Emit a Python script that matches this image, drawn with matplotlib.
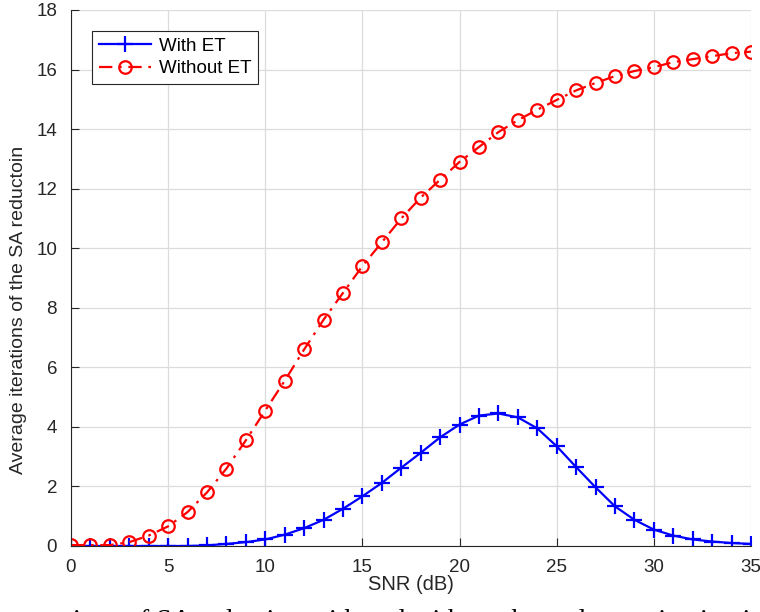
import matplotlib
matplotlib.use("Agg")
import matplotlib.pyplot as plt
import numpy as np

snr = list(range(0, 36))
with_et = [0, 0, 0, 0, 0, 0, 0, 0.02, 0.07, 0.13, 0.22, 0.38, 0.6, 0.88, 1.25,
           1.67, 2.12, 2.63, 3.13, 3.65, 4.08, 4.38, 4.45, 4.32, 3.95, 3.35,
           2.65, 1.97, 1.33, 0.88, 0.55, 0.35, 0.22, 0.15, 0.1, 0.07]
without_et = [0.03, 0.03, 0.03, 0.13, 0.35, 0.66, 1.14, 1.8, 2.6, 3.55, 4.55,
              5.55, 6.6, 7.6, 8.5, 9.4, 10.2, 11.0, 11.7, 12.3, 12.9, 13.4,
              13.9, 14.3, 14.65, 14.98, 15.3, 15.55, 15.78, 15.95, 16.08,
              16.25, 16.35, 16.45, 16.55, 16.6]

plt.rcParams["font.family"] = ["Liberation Sans", "DejaVu Sans"]

fig = plt.figure(figsize=(7.6, 6.12), dpi=100)
ax = fig.add_axes([71 / 760, 66 / 612, 680 / 760, 536 / 612])

ax.plot(snr, with_et, color="#0000ff", lw=1.6, marker="+", ms=11, mew=1.6,
        label="With ET")
ax.plot(snr, without_et, color="#ff0000", lw=1.6, ls=(0, (6, 3, 1.2, 3)),
        marker="o", ms=9, mew=1.6, mfc="none", label="Without ET")

ax.set_xlim(0, 35)
ax.set_ylim(0, 18)
ax.set_xticks(range(0, 36, 5))
ax.set_yticks(range(0, 19, 2))
ax.grid(True, color="#dcdcdc", lw=0.9)
ax.set_axisbelow(True)
for s in ["top", "right"]:
    ax.spines[s].set_visible(False)
for s in ["left", "bottom"]:
    ax.spines[s].set_color("#262626")
    ax.spines[s].set_linewidth(0.8)
ax.tick_params(direction="in", length=6, width=0.8, colors="#262626",
               labelsize=13.5, labelcolor="#262626")
ax.tick_params(axis="x", pad=9)
ax.tick_params(axis="y", pad=10)

ax.set_xlabel("SNR (dB)", fontsize=14.5, color="#262626", labelpad=0)
ax.set_ylabel("Average iterations of the SA reductoin", fontsize=14,
              color="#262626")
ax.yaxis.set_label_coords(-0.064, 0.44)

leg = ax.legend(loc="upper left", bbox_to_anchor=(0.031, 0.961), fontsize=13.5,
                fancybox=False, framealpha=1, edgecolor="#262626",
                handlelength=2.8, borderpad=0.35, labelspacing=0.3,
                handletextpad=0.4, borderaxespad=0)
leg.get_frame().set_linewidth(0.8)

# partial caption at the bottom edge (cut off in the reference)
fig.text(53 / 760, 1 - 609 / 612,
         "ations of SA reduction with and without the early termination in",
         family="Liberation Serif", fontsize=20, color="black", va="top")

fig.savefig("out.png", dpi=100)
